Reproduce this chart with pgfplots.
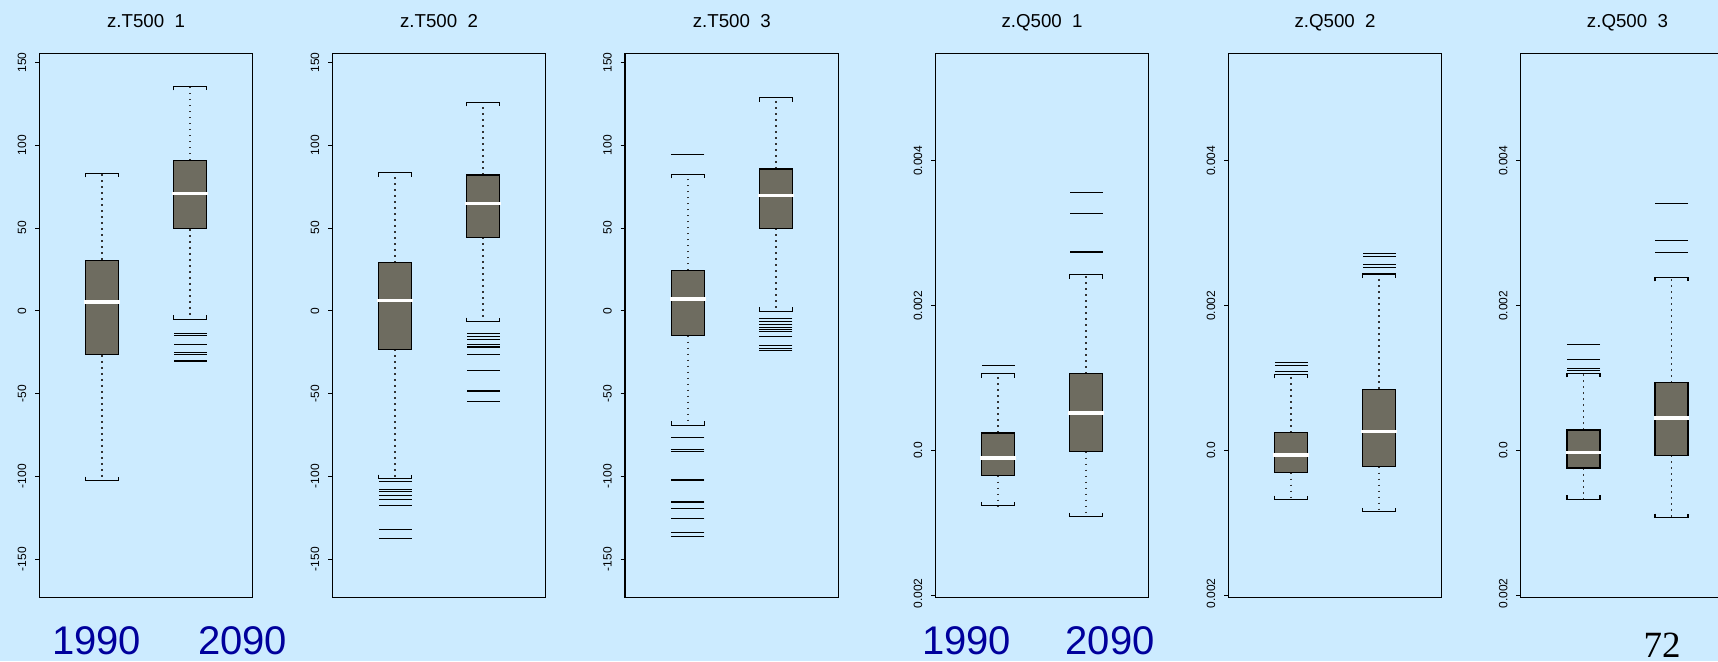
\documentclass[border=0pt]{standalone}
\usepackage{pgfplots}
\pgfplotsset{compat=1.18}
\usepgfplotslibrary{statistics}
\usepackage{fontspec}
\setmainfont{Liberation Sans}
\newfontfamily\serifnum{Liberation Serif}

\definecolor{bg}{RGB}{204,235,255}
\definecolor{boxgray}{RGB}{110,108,96}
\definecolor{yearblue}{RGB}{0,0,156}

\tikzset{
  wdot/.style={draw=black!80, line width=1.6pt, dash pattern=on 1.6pt off 4.4pt},
  wcap/.style={draw=black, line width=1.1pt, solid},
}

\pgfplotsset{
  panel/.style={
    anchor=north west, scale only axis,
    width=213.6pt, height=544.7pt,
    xmin=0, xmax=1, xtick=\empty,
    axis line style={line width=1.1pt},
    ytick pos=left, tick align=outside, major tick length=4.3pt,
    every tick/.style={black, line width=0.8pt},
    yticklabel style={font=\fontsize{12}{12}\selectfont, rotate=90, anchor=base},
    yticklabel shift=9pt,
    title style={font=\fontsize{18.7}{20}\selectfont, at={(0.5,1)}, anchor=base, yshift=19.4pt},
    clip=false, scaled y ticks=false,
  },
  tpanel/.style={panel, ymin=-173.4, ymax=155.6,
    ytick={-150,-100,-50,0,50,100,150}, yticklabels={-150,-100,-50,0,50,100,150}},
  qpanel/.style={panel, ymin=-0.002031, ymax=0.005487,
    ytick={-0.002,0,0.002,0.004}, yticklabels={-0.002,0.0,0.002,0.004}},
  bp/.style={black, mark=-, mark size=16.5pt, mark options={line width=0.9pt, solid},
    boxplot/box extend=0.1545, boxplot/whisker extend=0.1545},
  boxplot/draw direction=y,
  boxplot/every box/.style={draw=black, fill=boxgray, line width=1.1pt},
  boxplot/every median/.style={white, line width=3.6pt, shorten <=-1.2pt, shorten >=-1.2pt},
  boxplot/draw/lower whisker/.code={%
    \draw[wdot] (boxplot box cs:\pgfplotsboxplotvalue{lower quartile},0.5)
      -- (boxplot box cs:\pgfplotsboxplotvalue{lower whisker},0.5);
    \draw[wcap] ([yshift=4pt]boxplot box cs:\pgfplotsboxplotvalue{lower whisker},0)
      -- (boxplot box cs:\pgfplotsboxplotvalue{lower whisker},0)
      -- (boxplot box cs:\pgfplotsboxplotvalue{lower whisker},1)
      -- ([yshift=4pt]boxplot box cs:\pgfplotsboxplotvalue{lower whisker},1);
  },
  boxplot/draw/upper whisker/.code={%
    \draw[wdot] (boxplot box cs:\pgfplotsboxplotvalue{upper quartile},0.5)
      -- (boxplot box cs:\pgfplotsboxplotvalue{upper whisker},0.5);
    \draw[wcap] ([yshift=-4pt]boxplot box cs:\pgfplotsboxplotvalue{upper whisker},0)
      -- (boxplot box cs:\pgfplotsboxplotvalue{upper whisker},0)
      -- (boxplot box cs:\pgfplotsboxplotvalue{upper whisker},1)
      -- ([yshift=-4pt]boxplot box cs:\pgfplotsboxplotvalue{upper whisker},1);
  },
}

\begin{document}
\begin{tikzpicture}
\fill[bg] (0,0) rectangle (1718pt,-661pt);

% z.T500 1
\begin{axis}[tpanel, at={(39.3pt,-53.1pt)}, title={z.T500\ \ 1}]
\addplot[bp, boxplot prepared={draw position=0.294, lower whisker=-102.6,
  lower quartile=-26.7, median=5.1, upper quartile=30.6, upper whisker=83.0}]
  coordinates {};
\addplot[bp, boxplot prepared={draw position=0.706, lower whisker=-5.3,
  lower quartile=49.4, median=70.8, upper quartile=90.9, upper whisker=135.5}]
  coordinates {(0,-14.0) (0,-14.8) (0,-20.4) (0,-25.2) (0,-26.2) (0,-30.0) (0,-30.8)};
\end{axis}

% z.T500 2
\begin{axis}[tpanel, at={(332.3pt,-53.1pt)}, title={z.T500\ \ 2}]
\addplot[bp, boxplot prepared={draw position=0.294, lower whisker=-101.4,
  lower quartile=-23.2, median=6.1, upper quartile=29.0, upper whisker=83.3}]
  coordinates {(0,-103.4) (0,-108.2) (0,-109.0) (0,-111.5) (0,-114.1) (0,-117.4) (0,-132.2) (0,-137.8)};
\addplot[bp, boxplot prepared={draw position=0.706, lower whisker=-6.6,
  lower quartile=44.3, median=64.7, upper quartile=82.0, upper whisker=125.8}]
  coordinates {(0,-13.5) (0,-15.3) (0,-17.6) (0,-20.6) (0,-21.4) (0,-22.4) (0,-26.7) (0,-35.9) (0,-48.4) (0,-48.9) (0,-54.7)};
\end{axis}

% z.T500 3
\begin{axis}[tpanel, at={(625pt,-53.1pt)}, title={z.T500\ \ 3}]
\addplot[bp, boxplot prepared={draw position=0.294, lower whisker=-69.3,
  lower quartile=-15.0, median=6.9, upper quartile=24.4, upper whisker=82.3}]
  coordinates {(0,94.2) (0,-76.4) (0,-83.5) (0,-85.3) (0,-101.9) (0,-102.4) (0,-115.1) (0,-116.1) (0,-119.2) (0,-125.3) (0,-133.7) (0,-136.2)};
\addplot[bp, boxplot prepared={draw position=0.706, lower whisker=-0.3,
  lower quartile=49.9, median=69.5, upper quartile=85.6, upper whisker=128.6}]
  coordinates {(0,-4.6) (0,-6.4) (0,-8.1) (0,-9.9) (0,-11.2) (0,-12.7) (0,-15.8) (0,-21.1) (0,-22.7) (0,-23.7)};
\end{axis}

% z.Q500 1
\begin{scope}
\clip (880pt,0pt) rectangle (1170pt,-607pt);
\begin{axis}[qpanel, at={(935.3pt,-53.1pt)}, title={z.Q500\ \ 1}]
\addplot[bp, boxplot prepared={draw position=0.294, lower whisker=-0.000762,
  lower quartile=-0.000343, median=-0.000105, upper quartile=0.000244, upper whisker=0.001059}]
  coordinates {(0,0.001170)};
\addplot[bp, boxplot prepared={draw position=0.706, lower whisker=-0.000914,
  lower quartile=-0.000012, median=0.000518, upper quartile=0.001059, upper whisker=0.002426}]
  coordinates {(0,0.002735) (0,0.002752) (0,0.003276) (0,0.003561)};
\end{axis}
\end{scope}

% z.Q500 2
\begin{scope}
\clip (1172pt,0pt) rectangle (1462pt,-607pt);
\begin{axis}[qpanel, at={(1228.3pt,-53.1pt)}, title={z.Q500\ \ 2}]
\addplot[bp, boxplot prepared={draw position=0.294, lower whisker=-0.000675,
  lower quartile=-0.000303, median=-0.000058, upper quartile=0.000250, upper whisker=0.001053}]
  coordinates {(0,0.001094) (0,0.001175) (0,0.001216)};
\addplot[bp, boxplot prepared={draw position=0.706, lower whisker=-0.000844,
  lower quartile=-0.000221, median=0.000262, upper quartile=0.000850, upper whisker=0.002438}]
  coordinates {(0,0.002531) (0,0.002566) (0,0.002682) (0,0.002723)};
\end{axis}
\end{scope}

% z.Q500 3
\begin{scope}
\clip (1464pt,0pt) rectangle (1718pt,-607pt);
\begin{axis}[qpanel, at={(1520.7pt,-53.1pt)}, title={z.Q500\ \ 3}]
\addplot[bp, boxplot prepared={draw position=0.294, lower whisker=-0.000669,
  lower quartile=-0.000239, median=-0.000023, upper quartile=0.000285, upper whisker=0.001065}]
  coordinates {(0,0.001106) (0,0.001135) (0,0.001257) (0,0.001466)};
\addplot[bp, boxplot prepared={draw position=0.706, lower whisker=-0.000925,
  lower quartile=-0.000064, median=0.000454, upper quartile=0.000937, upper whisker=0.002392}]
  coordinates {(0,0.002729) (0,0.002898) (0,0.003410)};
\end{axis}
\end{scope}

\begin{scope}[every node/.style={anchor=base, text=yearblue, font=\fontsize{40}{40}\selectfont}]
\node at (96.7pt,-654pt) {1990};
\node at (242.5pt,-654pt) {2090};
\node at (966.7pt,-654pt) {1990};
\node at (1110pt,-654pt) {2090};
\end{scope}
\node[anchor=base, font=\serifnum\fontsize{37}{37}\selectfont] at (1662pt,-657pt) {72};

\pgfresetboundingbox
\useasboundingbox (0,0) rectangle (1718pt,-661pt);
\end{tikzpicture}
\end{document}
